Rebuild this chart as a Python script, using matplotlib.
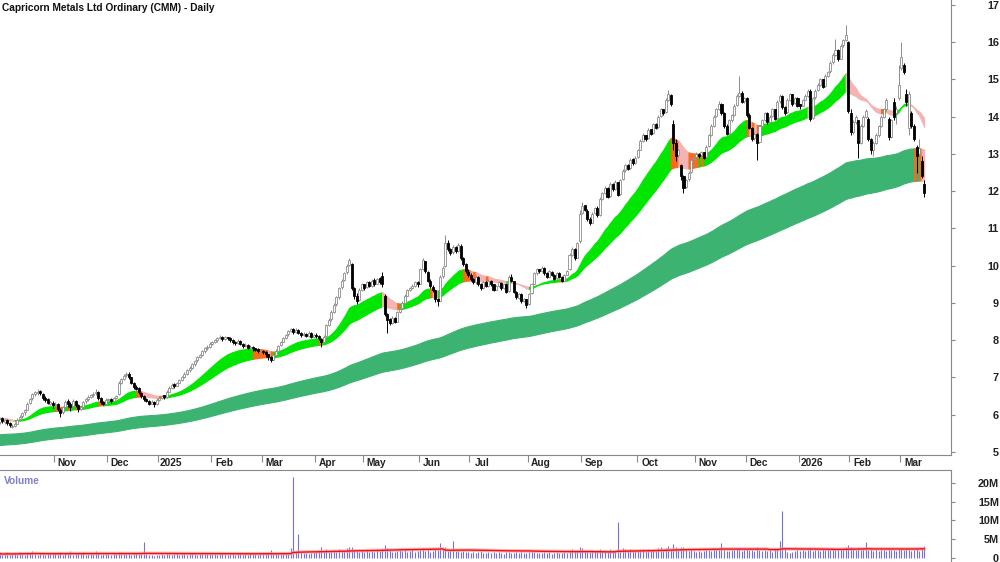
import numpy as np
import pandas as pd
import matplotlib
matplotlib.use("Agg")
import matplotlib.pyplot as plt
from matplotlib.transforms import blended_transform_factory

plt.rcParams["font.family"] = ["Liberation Sans", "DejaVu Sans"]

# Daily candles (open, high, low, close), one list per month
oct_2024 = [(5.80, 5.92, 5.76, 5.88), (5.90, 5.93, 5.78, 5.82), (5.80, 5.88, 5.76, 5.85), (5.86, 5.88, 5.72, 5.78),
            (5.78, 5.80, 5.66, 5.72), (5.68, 5.76, 5.64, 5.70), (5.70, 5.80, 5.68, 5.75), (5.76, 5.90, 5.74, 5.86),
            (5.88, 5.98, 5.84, 5.95), (5.96, 6.08, 5.92, 6.05), (6.08, 6.16, 6.00, 6.12), (6.14, 6.34, 6.12, 6.30),
            (6.32, 6.46, 6.28, 6.42), (6.44, 6.58, 6.40, 6.55), (6.56, 6.64, 6.50, 6.60), (6.58, 6.68, 6.54, 6.62),
            (6.64, 6.66, 6.52, 6.58), (6.56, 6.58, 6.40, 6.45), (6.46, 6.50, 6.34, 6.40), (6.42, 6.44, 6.28, 6.32),
            (6.30, 6.38, 6.26, 6.30), (6.32, 6.36, 6.18, 6.25)]
nov_2024 = [(6.26, 6.34, 6.20, 6.28), (6.30, 6.32, 6.10, 6.15), (6.14, 6.18, 5.95, 6.05), (6.06, 6.24, 6.02, 6.20),
            (6.22, 6.40, 6.18, 6.35), (6.38, 6.42, 6.22, 6.30), (6.30, 6.34, 6.10, 6.22), (6.24, 6.42, 6.20, 6.38),
            (6.36, 6.40, 6.20, 6.25), (6.26, 6.28, 6.08, 6.15), (6.16, 6.24, 6.12, 6.20), (6.20, 6.38, 6.18, 6.35),
            (6.36, 6.46, 6.32, 6.42), (6.42, 6.52, 6.38, 6.48), (6.48, 6.56, 6.44, 6.52), (6.52, 6.60, 6.48, 6.55),
            (6.58, 6.68, 6.54, 6.62), (6.62, 6.64, 6.40, 6.45), (6.44, 6.48, 6.30, 6.35), (6.34, 6.38, 6.26, 6.30),
            (6.30, 6.44, 6.28, 6.40)]
dec_2024 = [(6.40, 6.46, 6.36, 6.42), (6.42, 6.44, 6.32, 6.38), (6.38, 6.48, 6.36, 6.45), (6.46, 6.54, 6.42, 6.50),
            (6.55, 6.90, 6.52, 6.85), (6.86, 6.98, 6.82, 6.95), (6.96, 7.10, 6.92, 7.05), (7.06, 7.16, 7.00, 7.10),
            (7.10, 7.14, 6.96, 7.00), (7.00, 7.02, 6.82, 6.85), (6.86, 6.88, 6.70, 6.75), (6.74, 6.80, 6.66, 6.70),
            (6.72, 6.74, 6.56, 6.60), (6.58, 6.62, 6.46, 6.50), (6.50, 6.54, 6.38, 6.42), (6.42, 6.46, 6.34, 6.38),
            (6.38, 6.40, 6.26, 6.30), (6.30, 6.40, 6.28, 6.35), (6.34, 6.36, 6.22, 6.28), (6.28, 6.44, 6.26, 6.40)]
jan_2025 = [(6.40, 6.48, 6.36, 6.45), (6.46, 6.54, 6.42, 6.50), (6.52, 6.54, 6.42, 6.48), (6.48, 6.66, 6.46, 6.62),
            (6.62, 6.76, 6.60, 6.72), (6.72, 6.84, 6.70, 6.80), (6.82, 6.84, 6.72, 6.78), (6.78, 6.88, 6.76, 6.85),
            (6.86, 6.96, 6.84, 6.92), (6.92, 7.04, 6.90, 7.00), (7.00, 7.14, 6.98, 7.10), (7.10, 7.24, 7.08, 7.20),
            (7.20, 7.30, 7.16, 7.25), (7.26, 7.38, 7.22, 7.35), (7.36, 7.48, 7.32, 7.45), (7.46, 7.58, 7.42, 7.55),
            (7.56, 7.64, 7.52, 7.60), (7.60, 7.74, 7.58, 7.70), (7.70, 7.82, 7.66, 7.78), (7.78, 7.86, 7.74, 7.82),
            (7.82, 7.94, 7.80, 7.90)]
feb_2025 = [(7.90, 7.98, 7.86, 7.95), (7.96, 8.04, 7.92, 8.00), (8.00, 8.08, 7.96, 8.05), (8.06, 8.14, 8.02, 8.10),
            (8.10, 8.12, 7.98, 8.02), (8.02, 8.12, 8.00, 8.08), (8.08, 8.10, 8.00, 8.05), (8.06, 8.08, 7.96, 8.00),
            (8.00, 8.02, 7.90, 7.95), (7.96, 7.98, 7.88, 7.92), (7.92, 8.02, 7.90, 7.98), (7.98, 8.00, 7.86, 7.90),
            (7.90, 7.92, 7.80, 7.85), (7.84, 7.92, 7.82, 7.88), (7.88, 7.90, 7.76, 7.80), (7.80, 7.86, 7.76, 7.82),
            (7.82, 7.84, 7.72, 7.78), (7.78, 7.80, 7.70, 7.75), (7.76, 7.78, 7.66, 7.70), (7.70, 7.76, 7.66, 7.72)]
mar_2025 = [(7.72, 7.74, 7.62, 7.68), (7.68, 7.70, 7.56, 7.62), (7.62, 7.64, 7.48, 7.55), (7.56, 7.58, 7.42, 7.48),
            (7.48, 7.64, 7.46, 7.60), (7.60, 7.76, 7.58, 7.72), (7.72, 7.88, 7.70, 7.85), (7.86, 7.98, 7.84, 7.95),
            (7.96, 8.08, 7.94, 8.05), (8.06, 8.18, 8.04, 8.15), (8.16, 8.28, 8.12, 8.25), (8.26, 8.34, 8.22, 8.30),
            (8.30, 8.32, 8.18, 8.22), (8.22, 8.32, 8.20, 8.28), (8.28, 8.30, 8.16, 8.20), (8.20, 8.22, 8.10, 8.15),
            (8.14, 8.22, 8.12, 8.18), (8.18, 8.20, 8.08, 8.12), (8.12, 8.24, 8.10, 8.20), (8.20, 8.22, 8.06, 8.10),
            (8.10, 8.18, 8.06, 8.15)]
apr_2025 = [(8.15, 8.20, 8.06, 8.12), (8.12, 8.14, 8.00, 8.05), (8.04, 8.06, 7.82, 7.95), (7.96, 8.14, 7.92, 8.10),
            (8.12, 8.44, 8.10, 8.40), (8.42, 8.60, 8.38, 8.55), (8.56, 8.80, 8.52, 8.75), (8.76, 9.00, 8.72, 8.95),
            (8.96, 9.20, 8.92, 9.15), (9.16, 9.44, 9.12, 9.40), (9.42, 9.64, 9.38, 9.60), (9.62, 9.84, 9.58, 9.80),
            (9.82, 10.04, 9.78, 10.00), (10.02, 10.20, 9.98, 10.15), (10.05, 10.08, 9.35, 9.40), (9.40, 9.44, 9.10, 9.20),
            (9.20, 9.28, 8.98, 9.05), (9.08, 9.40, 9.04, 9.35), (9.36, 9.54, 9.32, 9.50)]
may_2025 = [(9.50, 9.52, 9.36, 9.40), (9.42, 9.60, 9.40, 9.55), (9.56, 9.60, 9.42, 9.45), (9.46, 9.64, 9.44, 9.60),
            (9.62, 9.66, 9.46, 9.50), (9.52, 9.68, 9.50, 9.65), (9.66, 9.70, 9.52, 9.55), (9.72, 9.84, 9.44, 9.50),
            (9.20, 9.24, 8.66, 8.70), (8.70, 8.74, 8.20, 8.55), (8.56, 8.60, 8.40, 8.45), (8.46, 8.64, 8.44, 8.60),
            (8.60, 8.62, 8.46, 8.50), (8.50, 8.78, 8.48, 8.75), (8.76, 8.90, 8.72, 8.85), (8.86, 9.04, 8.84, 9.00),
            (9.00, 9.24, 8.98, 9.20), (9.20, 9.38, 9.18, 9.35), (9.36, 9.44, 9.32, 9.40), (9.40, 9.50, 9.38, 9.45),
            (9.46, 9.58, 9.42, 9.55), (9.56, 9.58, 9.44, 9.50)]
jun_2025 = [(9.52, 9.94, 9.50, 9.90), (9.92, 10.22, 9.88, 10.15), (10.12, 10.14, 9.80, 9.85), (9.84, 9.86, 9.56, 9.60),
            (9.60, 9.64, 9.40, 9.45), (9.44, 9.48, 9.30, 9.35), (9.34, 9.36, 9.02, 9.10), (9.10, 9.14, 8.92, 9.05),
            (9.06, 9.74, 9.04, 9.70), (9.72, 10.00, 9.68, 9.95), (9.98, 10.82, 9.96, 10.60), (10.62, 10.70, 10.40, 10.45),
            (10.44, 10.48, 10.28, 10.35), (10.36, 10.56, 10.32, 10.50), (10.50, 10.54, 10.34, 10.40), (10.40, 10.62, 10.38, 10.55),
            (10.54, 10.58, 10.16, 10.20), (10.20, 10.24, 10.00, 10.05), (10.04, 10.08, 9.80, 9.85), (9.84, 9.90, 9.70, 9.75)]
jul_2025 = [(9.76, 9.80, 9.60, 9.65), (9.64, 9.68, 9.50, 9.55), (9.56, 9.74, 9.52, 9.70), (9.70, 9.72, 9.46, 9.50),
            (9.50, 9.54, 9.36, 9.40), (9.40, 9.58, 9.38, 9.55), (9.56, 9.58, 9.42, 9.45), (9.46, 9.64, 9.44, 9.60),
            (9.60, 9.62, 9.46, 9.50), (9.50, 9.52, 9.32, 9.35), (9.36, 9.48, 9.34, 9.45), (9.46, 9.58, 9.44, 9.55),
            (9.54, 9.56, 9.36, 9.40), (9.40, 9.52, 9.38, 9.50), (9.50, 9.52, 9.26, 9.30), (9.32, 9.74, 9.30, 9.70),
            (9.70, 9.78, 9.56, 9.60), (9.58, 9.60, 9.26, 9.30), (9.30, 9.32, 9.10, 9.15), (9.14, 9.28, 9.12, 9.25),
            (9.24, 9.26, 9.00, 9.05), (9.06, 9.14, 9.02, 9.10), (9.10, 9.12, 8.86, 8.95)]
aug_2025 = [(8.96, 9.28, 8.94, 9.25), (9.26, 9.54, 9.24, 9.50), (9.52, 9.84, 9.50, 9.80), (9.80, 9.94, 9.76, 9.90),
            (9.90, 9.92, 9.80, 9.85), (9.86, 9.98, 9.84, 9.95), (9.94, 9.96, 9.76, 9.80), (9.80, 9.82, 9.66, 9.70),
            (9.70, 9.88, 9.68, 9.85), (9.84, 9.86, 9.72, 9.75), (9.76, 9.78, 9.62, 9.65), (9.66, 9.84, 9.64, 9.80),
            (9.80, 9.82, 9.66, 9.70), (9.70, 9.72, 9.56, 9.60), (9.60, 9.78, 9.58, 9.75), (9.76, 9.88, 9.74, 9.85),
            (9.90, 10.34, 9.88, 10.30), (10.30, 10.50, 10.26, 10.45), (10.44, 10.48, 10.16, 10.20), (10.22, 10.64, 10.20, 10.60),
            (10.66, 11.50, 10.62, 11.40)]
sep_2025 = [(11.42, 11.70, 11.38, 11.60), (11.62, 11.64, 11.46, 11.50), (11.48, 11.52, 11.20, 11.25), (11.26, 11.30, 11.10, 11.15),
            (11.16, 11.44, 11.14, 11.40), (11.42, 11.58, 11.38, 11.55), (11.56, 11.60, 11.30, 11.35), (11.36, 11.84, 11.34, 11.80),
            (11.80, 11.98, 11.76, 11.95), (11.96, 12.14, 11.92, 12.10), (12.10, 12.12, 11.82, 11.85), (11.86, 12.24, 11.84, 12.20),
            (12.20, 12.22, 12.00, 12.05), (12.06, 12.30, 12.04, 12.25), (12.24, 12.26, 11.86, 11.90), (11.92, 12.34, 11.90, 12.30),
            (12.32, 12.60, 12.30, 12.55), (12.56, 12.74, 12.52, 12.70), (12.70, 12.72, 12.56, 12.60), (12.62, 12.90, 12.60, 12.85),
            (12.86, 12.88, 12.70, 12.75), (12.76, 12.94, 12.74, 12.90)]
oct_2025 = [(12.92, 13.14, 12.90, 13.10), (13.12, 13.40, 13.10, 13.35), (13.36, 13.56, 13.32, 13.50), (13.50, 13.52, 13.36, 13.40),
            (13.42, 13.70, 13.40, 13.65), (13.66, 13.68, 13.50, 13.55), (13.56, 13.84, 13.54, 13.80), (13.80, 13.82, 13.66, 13.70),
            (13.72, 14.04, 13.70, 14.00), (14.02, 14.24, 13.98, 14.20), (14.20, 14.22, 14.06, 14.10), (14.12, 14.50, 14.10, 14.45),
            (14.46, 14.72, 14.42, 14.60), (14.58, 14.62, 14.30, 14.35), (13.80, 13.90, 13.10, 13.30), (13.30, 13.40, 12.80, 12.95),
            (12.96, 13.14, 12.92, 13.10), (12.70, 12.74, 12.30, 12.40), (12.40, 12.44, 11.95, 12.10), (12.12, 12.34, 12.08, 12.30),
            (12.32, 12.54, 12.28, 12.50), (12.52, 12.90, 12.48, 12.85), (12.86, 12.94, 12.80, 12.90)]
nov_2025 = [(12.92, 13.04, 12.88, 13.00), (13.00, 13.02, 12.88, 12.95), (12.96, 13.08, 12.92, 13.05), (13.04, 13.06, 12.86, 12.90),
            (12.92, 13.24, 12.90, 13.20), (13.22, 13.54, 13.18, 13.50), (13.52, 13.80, 13.48, 13.75), (13.76, 14.04, 13.72, 14.00),
            (14.02, 14.24, 13.98, 14.20), (14.22, 14.42, 14.18, 14.35), (14.34, 14.38, 14.06, 14.10), (14.10, 14.12, 13.70, 13.75),
            (13.76, 13.80, 13.50, 13.55), (13.56, 13.94, 13.54, 13.90), (13.90, 14.08, 13.86, 14.05), (14.06, 14.34, 14.02, 14.30),
            (14.32, 14.60, 14.28, 14.55), (14.56, 15.10, 14.52, 14.65), (14.64, 14.68, 14.36, 14.40), (14.42, 14.54, 14.38, 14.50)]
dec_2025 = [(14.50, 14.52, 14.00, 14.05), (14.06, 14.10, 13.66, 13.70), (13.70, 13.72, 13.36, 13.40), (13.42, 13.58, 13.38, 13.55),
            (13.54, 13.56, 12.85, 13.30), (13.32, 13.78, 13.30, 13.75), (13.76, 13.94, 13.72, 13.90), (13.92, 14.14, 13.88, 14.10),
            (14.10, 14.12, 13.80, 13.85), (13.86, 14.04, 13.84, 14.00), (14.02, 14.24, 13.98, 14.20), (14.20, 14.22, 13.90, 13.95),
            (13.96, 14.44, 13.94, 14.40), (14.42, 14.60, 14.38, 14.55), (14.56, 14.58, 14.20, 14.25), (14.26, 14.28, 14.06, 14.10),
            (14.12, 14.50, 14.10, 14.45), (14.46, 14.64, 14.42, 14.60), (14.60, 14.62, 14.30, 14.35), (14.36, 14.54, 14.34, 14.50),
            (14.50, 14.52, 14.26, 14.30)]
jan_2026 = [(14.32, 14.34, 14.20, 14.30), (14.30, 14.48, 14.28, 14.45), (14.46, 14.62, 14.44, 14.55), (14.56, 14.74, 14.52, 14.70),
            (14.70, 14.74, 13.88, 13.95), (13.96, 14.54, 13.94, 14.50), (14.52, 14.74, 14.48, 14.70), (14.72, 14.90, 14.68, 14.85),
            (14.86, 15.04, 14.82, 15.00), (15.00, 15.02, 14.76, 14.80), (14.82, 15.14, 14.80, 15.10), (15.10, 15.24, 15.06, 15.20),
            (15.22, 15.50, 15.18, 15.45), (15.46, 15.70, 15.42, 15.65), (15.66, 16.10, 15.62, 15.80), (15.80, 15.82, 15.50, 15.55),
            (15.56, 15.94, 15.54, 15.90), (15.92, 16.10, 15.88, 16.05), (16.06, 16.46, 16.02, 16.20), (16.00, 16.04, 14.10, 14.15)]
feb_2026 = [(14.10, 14.20, 13.50, 13.60), (13.60, 13.90, 13.55, 13.85), (13.86, 14.06, 13.80, 14.00), (13.90, 13.92, 12.90, 13.30),
            (13.30, 13.80, 13.26, 13.75), (13.76, 14.06, 13.72, 14.00), (14.00, 14.20, 13.96, 14.15), (13.95, 13.98, 13.36, 13.40),
            (13.40, 13.44, 13.00, 13.10), (13.10, 13.34, 12.95, 13.30), (13.30, 13.56, 13.26, 13.50), (13.50, 13.78, 13.46, 13.75),
            (13.76, 14.04, 13.72, 14.00), (14.00, 14.24, 13.96, 14.20), (14.20, 14.50, 14.16, 14.45), (13.95, 13.98, 13.38, 13.45),
            (13.46, 13.94, 13.42, 13.90), (14.40, 14.50, 13.90, 14.00), (14.10, 14.30, 13.80, 14.20), (14.50, 15.40, 14.46, 14.85)]
mar_2026 = [(15.30, 16.00, 15.25, 15.60), (15.40, 15.45, 15.15, 15.20), (14.60, 14.75, 14.30, 14.40), (13.70, 14.70, 13.50, 14.60),
            (14.10, 14.15, 13.70, 13.75), (13.75, 13.80, 13.35, 13.40), (13.20, 13.25, 12.50, 12.95), (13.00, 13.40, 12.96, 13.15),
            (12.80, 12.95, 12.35, 12.40), (12.20, 12.30, 11.85, 11.95)]

# Daily volume in millions, one list per month
vol_oct_2024 = [1.2, 0.9, 1.1, 1.4, 0.8, 1.0, 1.3, 0.9, 1.6, 1.1, 0.9, 1.5, 1.2, 1.8, 1.0, 0.9, 1.3, 1.1, 0.8, 1.2, 1.0, 1.4]
vol_nov_2024 = [1.3, 1.0, 1.6, 0.9, 1.2, 1.1, 1.9, 0.8, 1.0, 1.4, 1.2, 1.7, 0.9, 1.1, 1.3, 1.0, 1.8, 1.2, 0.9, 1.1, 1.0]
vol_dec_2024 = [1.1, 0.9, 1.3, 1.0, 1.7, 1.5, 1.2, 1.0, 1.4, 0.9, 1.1, 1.3, 1.0, 1.2, 4.3, 1.1, 0.7, 0.8, 0.6, 0.9]
vol_jan_2025 = [0.8, 1.0, 0.9, 1.2, 1.1, 0.7, 1.0, 1.3, 0.9, 1.1, 1.0, 0.8, 1.2, 1.4, 1.0, 0.9, 1.1, 1.3, 1.0, 1.2, 1.1]
vol_feb_2025 = [1.0, 1.2, 0.9, 1.1, 1.4, 1.0, 0.8, 1.1, 1.3, 0.9, 1.0, 1.2, 0.8, 1.1, 0.9, 1.3, 1.0, 1.1, 0.9, 1.2]
vol_mar_2025 = [1.3, 1.1, 1.5, 2.2, 1.4, 1.2, 1.0, 1.1, 1.4, 1.2, 1.0, 2.6, 21.5, 1.8, 6.5, 1.5, 1.2, 1.4, 1.1, 1.3, 1.6]
vol_apr_2025 = [1.5, 2.0, 2.8, 1.8, 2.5, 1.6, 1.9, 2.2, 1.7, 2.4, 2.0, 1.8, 2.6, 3.0, 2.9, 2.2, 1.9, 1.6, 1.8]
vol_may_2025 = [1.7, 2.0, 1.5, 1.9, 1.6, 2.1, 1.8, 2.4, 3.5, 2.6, 2.0, 1.7, 1.5, 1.9, 2.2, 1.8, 2.0, 1.6, 1.9, 2.3, 1.7, 1.8]
vol_jun_2025 = [2.2, 2.6, 1.9, 2.0, 1.7, 1.8, 2.3, 2.1, 4.0, 2.4, 2.8, 1.9, 2.0, 4.5, 1.8, 2.1, 1.7, 1.9, 1.6, 1.5]
vol_jul_2025 = [1.4, 1.6, 1.3, 1.5, 1.8, 1.2, 1.4, 1.7, 1.3, 1.5, 1.2, 1.6, 1.4, 1.1, 1.5, 1.7, 1.3, 1.4, 1.6, 1.2, 1.5, 1.3, 1.4]
vol_aug_2025 = [1.5, 1.8, 1.6, 1.3, 1.4, 1.2, 1.7, 1.3, 1.5, 1.1, 1.4, 1.6, 1.2, 1.3, 1.5, 1.4, 2.0, 2.4, 1.8, 2.2, 2.9]
vol_sep_2025 = [2.6, 2.2, 1.9, 1.7, 2.0, 1.8, 2.1, 2.4, 1.9, 2.2, 1.8, 2.3, 2.0, 1.9, 9.7, 2.1, 2.6, 2.4, 1.9, 2.3, 2.0, 2.2]
vol_oct_2025 = [2.1, 2.5, 2.3, 1.9, 2.4, 2.0, 2.2, 1.8, 2.6, 2.9, 2.0, 2.7, 3.2, 2.3, 3.8, 2.9, 2.2, 2.8, 3.0, 2.1, 1.9, 2.0, 1.8]
vol_nov_2025 = [1.7, 1.9, 1.6, 1.8, 2.0, 2.2, 1.9, 2.3, 2.1, 2.4, 4.0, 2.2, 1.9, 1.8, 2.0, 2.1, 2.3, 2.6, 1.9, 2.0]
vol_dec_2025 = [2.4, 2.2, 2.0, 1.9, 2.8, 2.1, 1.8, 2.0, 1.9, 2.2, 1.7, 2.6, 2.3, 4.5, 12.5, 2.4, 1.5, 1.2, 1.6, 1.9, 2.0]
vol_jan_2026 = [1.8, 2.1, 1.9, 2.0, 2.6, 1.8, 2.2, 2.0, 1.9, 2.3, 2.1, 2.4, 2.2, 2.6, 2.0, 2.3, 2.5, 2.2, 2.8, 3.4]
vol_feb_2026 = [2.9, 2.4, 2.2, 2.6, 2.1, 2.3, 4.2, 2.0, 2.4, 1.9, 2.1, 1.8, 2.0, 2.2, 1.9, 2.3, 2.0, 2.1, 1.8, 2.4]
vol_mar_2026 = [2.6, 2.0, 2.3, 2.1, 1.9, 2.2, 2.5, 1.9, 2.4, 3.3]

asx_holidays = ["2024-12-25", "2024-12-26", "2025-01-01", "2025-01-27", "2025-04-18", "2025-04-21",
                "2025-04-25", "2025-06-09", "2025-12-25", "2025-12-26", "2026-01-01", "2026-01-26"]

# Moving average bands: (period, starting value)
short_fast, short_slow = (22, 5.93), (42, 5.86)
long_fast, long_slow = (150, 5.47), (220, 5.18)

months = [oct_2024, nov_2024, dec_2024, jan_2025, feb_2025, mar_2025, apr_2025, may_2025, jun_2025,
          jul_2025, aug_2025, sep_2025, oct_2025, nov_2025, dec_2025, jan_2026, feb_2026, mar_2026]
vol_months = [vol_oct_2024, vol_nov_2024, vol_dec_2024, vol_jan_2025, vol_feb_2025, vol_mar_2025,
              vol_apr_2025, vol_may_2025, vol_jun_2025, vol_jul_2025, vol_aug_2025, vol_sep_2025,
              vol_oct_2025, vol_nov_2025, vol_dec_2025, vol_jan_2026, vol_feb_2026, vol_mar_2026]

ohlc = np.array([row for m in months for row in m])
volume = np.array([v for m in vol_months for v in m])
dates = pd.bdate_range("2024-10-02", "2026-03-13", freq="C", holidays=asx_holidays)
assert len(dates) == len(ohlc) == len(volume), (len(dates), len(ohlc), len(volume))

o, h, l, c = ohlc.T
x = np.arange(len(c))


def ema(values, spec):
    period, start = spec
    alpha = 2.0 / (period + 1)
    out = []
    e = start
    for v in values:
        e = e + alpha * (v - e)
        out.append(e)
    return np.array(out)


def draw_band(ax, fast, slow, colors):
    # green: both averages rising, pink: both falling, orange: mixed
    rise_f = np.r_[True, np.diff(fast) >= 0]
    rise_s = np.r_[True, np.diff(slow) >= 0]
    state = np.where(rise_f & rise_s, 0, np.where(~rise_f & ~rise_s, 2, 1))
    lo = np.minimum(fast, slow)
    hi = np.maximum(fast, slow)
    start = 0
    for i in range(1, len(state) + 1):
        if i == len(state) or state[i] != state[start]:
            seg = slice(max(start - 1, 0), i)
            ax.fill_between(x[seg], lo[seg], hi[seg], color=colors[state[start]],
                            lw=0.8, edgecolor=colors[state[start]], zorder=2)
            start = i


fig = plt.figure(figsize=(10, 5.62), dpi=100)
ax = fig.add_axes([0, 1 - 455 / 562, 0.951, 455 / 562])
vax = fig.add_axes([0, 0, 0.951, 92 / 562])

# bands
draw_band(ax, ema(c, long_fast), ema(c, long_slow), ["#3cb371", "#fa6a1e", "#f5b3b3"])
draw_band(ax, ema(c, short_fast), ema(c, short_slow), ["#00e600", "#fa6a1e", "#f5b3b3"])

# candles
up = c >= o
body_lo = np.minimum(o, c)
body_h = np.maximum(np.abs(c - o), 0.03)
ax.vlines(x[up], l[up], h[up], color="#8c8c8c", lw=0.7, zorder=3)
ax.vlines(x[~up], l[~up], h[~up], color="black", lw=0.7, zorder=3)
ax.bar(x[up], body_h[up], bottom=body_lo[up], width=0.8, facecolor="white",
       edgecolor="#8c8c8c", lw=0.6, zorder=4)
ax.bar(x[~up], body_h[~up], bottom=body_lo[~up], width=0.8, facecolor="black",
       edgecolor="black", lw=0.6, zorder=4)

xmin, xmax = 0.18, 375.6
ax.set_xlim(xmin, xmax)
ax.set_ylim(4.919, 17.134)

# month ticks and labels
month_start = [i for i in range(len(dates)) if i > 0 and dates[i].month != dates[i - 1].month]
ax.set_xticks([i - 0.5 for i in month_start])
ax.set_xticklabels([])
ax.tick_params(axis="x", direction="out", length=5, color="#888888")
trans = blended_transform_factory(ax.transData, ax.transAxes)
for i in month_start:
    d = dates[i]
    label = str(d.year) if d.month == 1 else d.strftime("%b")
    ax.text(i + 4.6, -0.017, label, transform=trans, ha="center", va="center",
            fontsize=7.3, fontweight="bold", color="#222222", clip_on=False)

price_ticks = list(range(5, 18))
ax.yaxis.tick_right()
ax.set_yticks(price_ticks)
ax.set_yticklabels([str(t) for t in price_ticks])
ax.tick_params(axis="y", direction="out", length=3, color="#888888", pad=31.5,
               labelsize=7.8, labelcolor="#222222")
for lab in ax.get_yticklabels():
    lab.set_horizontalalignment("right")
    lab.set_fontweight("bold")

for side in ["left", "top"]:
    ax.spines[side].set_visible(False)
for side in ["right", "bottom"]:
    ax.spines[side].set_color("#888888")
    ax.spines[side].set_linewidth(0.8)

ax.text(0.002, 0.994, "Capricorn Metals Ltd Ordinary (CMM) - Daily", transform=ax.transAxes,
        ha="left", va="top", fontsize=7.3, fontweight="bold", color="#111111")

# volume panel
vax.vlines(x, 0, volume, color="#7272d8", lw=0.8)
vol_ma = pd.Series(volume).rolling(60, min_periods=1).mean().values
vax.plot(x, vol_ma, color="#ff9999", lw=2.6, alpha=0.7)
vax.plot(x, vol_ma, color="#ee1111", lw=1.0)
vax.set_xlim(xmin, xmax)
vax.set_ylim(-1.07, 23.47)
vax.set_xticks([])
vol_ticks = [0, 5, 10, 15, 20]
vax.yaxis.tick_right()
vax.set_yticks(vol_ticks)
vax.set_yticklabels(["0", "5M", "10M", "15M", "20M"])
vax.tick_params(axis="y", direction="out", length=3, color="#888888", pad=31.5,
                labelsize=7.8, labelcolor="#222222")
for lab in vax.get_yticklabels():
    lab.set_horizontalalignment("right")
    lab.set_fontweight("bold")
for side in ["left", "bottom"]:
    vax.spines[side].set_visible(False)
for side in ["right", "top"]:
    vax.spines[side].set_color("#888888")
    vax.spines[side].set_linewidth(0.8)
vax.text(0.004, 0.93, "Volume", transform=vax.transAxes, ha="left", va="top",
         fontsize=7.3, color="#8080c8", fontweight="bold")

fig.savefig("out.png", dpi=100)
